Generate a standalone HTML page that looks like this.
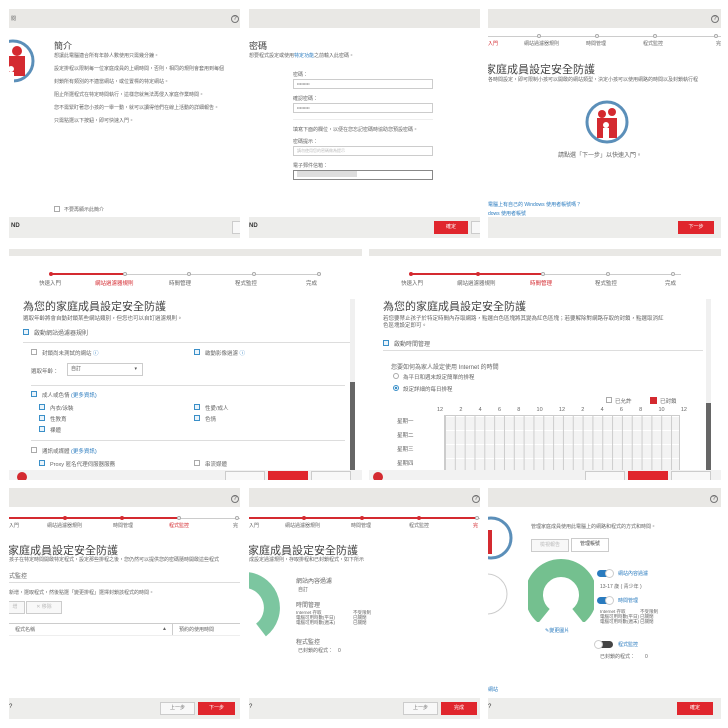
<!DOCTYPE html>
<html><head><meta charset="utf-8"><style>
*{margin:0;padding:0;box-sizing:border-box}
body{width:728px;height:728px;background:#fff;position:relative;overflow:hidden;font-family:"Liberation Sans","Noto Sans CJK TC",sans-serif;color:#555}
.p{position:absolute;background:#fff;overflow:hidden}
.a{position:absolute;white-space:nowrap}
.hd{position:absolute;left:0;right:0;top:0;height:19px;background:#e9e8e5}
.ft{position:absolute;left:0;right:0;bottom:0;height:21px;background:#ededeb}
.q{position:absolute;width:8px;height:8px;border:1px solid #777;border-radius:50%;font-size:6px;line-height:6px;text-align:center;color:#555}
.t{font-size:5px;color:#666}
.r2 .t{font-size:5.5px}
.h{font-size:11px;color:#444}
.btn{position:absolute;height:13px;background:#e0262d;color:#fff;font-size:5px;text-align:center;line-height:13px}
.gb{position:absolute;height:13px;background:#f8f8f8;border:1px solid #ccc;font-size:5px;text-align:center;line-height:11px;color:#777}
.inp{position:absolute;height:10px;border:1px solid #ccc;background:#fff;font-size:4px;padding-left:3px;line-height:8px}
.cb{position:absolute;width:6px;height:6px;border:1px solid #3a8fc8;background:#eaf4fb}
.cbo{position:absolute;width:6px;height:6px;border:1px solid #aaa}
.line{position:absolute;height:1px;background:#ccc}
.rl{position:absolute;height:2px;background:#d42a30}
.dot{position:absolute;width:4px;height:4px;border-radius:50%;background:#d42a30}
.odot{position:absolute;width:4px;height:4px;border-radius:50%;border:1px solid #aaa;background:#fff}
.blue{color:#2a7bbf}
.red{color:#d42a30}
</style></head><body>

<!-- Panel A -->
<div class="p" style="left:9px;top:9px;width:231px;height:229px">
<div class="hd"></div><div class="q" style="left:222px;top:6px">?</div>
<div class="a t" style="left:2px;top:6px">閱</div>
<svg class="a" style="left:-10px;top:30px" width="48" height="56"><circle cx="14" cy="22" r="20" fill="#fff" stroke="#5b8fb9" stroke-width="3"/><circle cx="18" cy="12" r="5" fill="#d42a30"/><rect x="10" y="17" width="16" height="20" fill="#d42a30"/><circle cx="8" cy="26" r="4" fill="#d42a30"/><circle cx="12" cy="30" r="3" fill="#fff"/><rect x="9" y="33" width="6" height="12" fill="#fff"/></svg>
<div class="a" style="left:45px;top:30px;font-size:9px;color:#444">簡介</div>
<div class="a t" style="left:45px;top:43px">想讓此電腦適合所有年齡人數使用只需幾分鐘。</div>
<div class="a t" style="left:45px;top:56px">設定排程以限制每一位家庭成員的上網時間，否則，相同的規則會套用到每個</div>
<div class="a t" style="left:45px;top:69px">封鎖所有類別的不適當網站，或位置標的特定網站。</div>
<div class="a t" style="left:45px;top:82px">阻止所選程式在特定時間執行，這樣您就無法再侵入家庭作業時間。</div>
<div class="a t" style="left:45px;top:95px">您不需緊盯著您小孩的一舉一動，就可以讀得他們在線上活動的詳細報告。</div>
<div class="a t" style="left:45px;top:108px">只需點選以下按鈕，即可快速入門。</div>
<div class="cbo" style="left:45px;top:197px"></div><div class="a t" style="left:55px;top:197px">不要再顯示此簡介</div>
<div class="ft"><div class="a" style="left:2px;top:6px;font-size:6px;font-weight:bold;color:#333">ND</div><div class="gb" style="left:223px;top:4px;width:10px"></div></div>
</div>

<!-- Panel B -->
<div class="p" style="left:249px;top:9px;width:231px;height:229px">
<div class="hd"></div>
<div class="a" style="left:0;top:30px;font-size:9px;color:#444">密碼</div>
<div class="a t" style="left:0;top:43px">想要程式設定或使用<span class="blue">特定功能</span>之前輸入此密碼。</div>
<div class="a t" style="left:44px;top:62px">密碼：</div><div class="inp" style="left:44px;top:70px;width:140px">•••••••••</div>
<div class="a t" style="left:44px;top:86px">確認密碼：</div><div class="inp" style="left:44px;top:94px;width:140px">•••••••••</div>
<div class="line" style="left:44px;top:110px;width:140px;background:#eee"></div>
<div class="a t" style="left:44px;top:117px">填寫下面的欄位，以便在您忘記密碼時協助您預設密碼。</div>
<div class="a t" style="left:44px;top:129px">密碼提示：</div><div class="inp" style="left:44px;top:137px;width:140px;color:#bbb">請勿使用您的密碼做為提示</div>
<div class="a t" style="left:44px;top:153px">電子郵件信箱：</div><div class="inp" style="left:44px;top:161px;width:140px;border-color:#888"><span style="display:inline-block;width:60px;height:6px;background:#ddd"></span></div>
<div class="ft"><div class="a" style="left:0;top:6px;font-size:6px;font-weight:bold;color:#333">ND</div><div class="btn" style="left:185px;top:4px;width:34px">確定</div><div class="gb" style="left:222px;top:4px;width:12px"></div></div>
</div>

<!-- Panel C -->
<div class="p" style="left:488px;top:9px;width:233px;height:229px">
<div class="hd"></div><div class="q" style="left:223px;top:6px">?</div>
<div class="line" style="left:0;top:27px;width:233px"></div>
<div class="odot" style="left:49px;top:25px"></div><div class="odot" style="left:107px;top:25px"></div><div class="odot" style="left:165px;top:25px"></div><div class="odot" style="left:226px;top:25px"></div>
<div class="a t red" style="left:0;top:31px">入門</div><div class="a t" style="left:36px;top:31px">網站過濾器規則</div><div class="a t" style="left:98px;top:31px">時間管理</div><div class="a t" style="left:155px;top:31px">程式監控</div><div class="a t" style="left:228px;top:31px">完</div>
<div class="a h" style="left:-3px;top:52px">家庭成員設定安全防護</div>
<div class="a t" style="left:0;top:67px">各時間設定，即可限制小孩可以開啟的網站類型，決定小孩可以使用網路的時間以及封鎖執行程</div>
<svg class="a" style="left:96px;top:90px" width="46" height="46"><circle cx="23" cy="23" r="20" fill="#fff" stroke="#5b8fb9" stroke-width="3"/><circle cx="18" cy="15" r="4" fill="#d42a30"/><circle cx="28" cy="13" r="4" fill="#d42a30"/><rect x="13" y="19" width="20" height="20" fill="#d42a30"/><circle cx="22" cy="26" r="3" fill="#fff"/><rect x="19" y="29" width="6" height="11" fill="#fff"/></svg>
<div class="a t" style="left:70px;top:141px;font-size:6px">請點選「下一步」以快速入門。</div>
<div class="a t blue" style="left:0;top:192px">電腦上有自己的 Windows 使用者帳號嗎？</div>
<div class="a t blue" style="left:0;top:201px">dows 使用者帳號</div>
<div class="ft"><div class="btn" style="left:190px;top:4px;width:36px">下一步</div></div>
</div>

<!-- Panel D -->
<div class="p r2" style="left:9px;top:249px;width:353px;height:231px">
<div class="hd" style="height:7px"></div>
<div class="line" style="left:42px;top:25px;width:270px"></div><div class="rl" style="left:42px;top:24px;width:72px"></div>
<div class="dot" style="left:40px;top:23px"></div><div class="odot" style="left:114px;top:23px"></div><div class="odot" style="left:178px;top:23px"></div><div class="odot" style="left:243px;top:23px"></div><div class="odot" style="left:308px;top:23px"></div>
<div class="a t" style="left:30px;top:30px">快速入門</div><div class="a t red" style="left:86px;top:30px">網站過濾器規則</div><div class="a t" style="left:160px;top:30px">時間管理</div><div class="a t" style="left:226px;top:30px">程式監控</div><div class="a t" style="left:297px;top:30px">完成</div>
<div class="a h" style="left:14px;top:49px">為您的家庭成員設定安全防護</div>
<div class="a t" style="left:14px;top:65px">選取年齡將會自動封鎖某些網站類別，但您也可以自訂過濾規則。</div>
<div class="cb" style="left:14px;top:80px"></div><div class="a t" style="left:25px;top:79px;font-size:6px">啟動網站過濾器規則</div>
<div class="line" style="left:14px;top:93px;width:330px;background:#ddd"></div>
<div class="cbo" style="left:22px;top:100px"></div><div class="a t" style="left:33px;top:100px">封鎖尚未測試的網站 <span class="blue">ⓘ</span></div>
<div class="cb" style="left:185px;top:100px"></div><div class="a t" style="left:196px;top:100px">啟動影像過濾 <span class="blue">ⓘ</span></div>
<div class="a t" style="left:22px;top:118px">選取年齡：</div><div class="inp" style="left:58px;top:114px;width:76px;height:13px;line-height:11px;font-size:5px">自訂<span style="float:right;margin-right:5px">▾</span></div>
<div class="line" style="left:22px;top:136px;width:314px;background:#ddd"></div>
<div class="cb" style="left:22px;top:142px"></div><div class="a t" style="left:33px;top:142px">成人或色情 <span class="blue">(更多資訊)</span></div>
<div class="cb" style="left:30px;top:155px"></div><div class="a t" style="left:41px;top:155px">內衣/泳裝</div>
<div class="cb" style="left:30px;top:166px"></div><div class="a t" style="left:41px;top:166px">性教育</div>
<div class="cb" style="left:30px;top:177px"></div><div class="a t" style="left:41px;top:177px">裸體</div>
<div class="cb" style="left:185px;top:155px"></div><div class="a t" style="left:196px;top:155px">性愛/成人</div>
<div class="cb" style="left:185px;top:166px"></div><div class="a t" style="left:196px;top:166px">色情</div>
<div class="line" style="left:22px;top:191px;width:314px;background:#ddd"></div>
<div class="cbo" style="left:22px;top:198px"></div><div class="a t" style="left:33px;top:198px">通訊或媒體 <span class="blue">(更多資訊)</span></div>
<div class="cb" style="left:30px;top:211px"></div><div class="a t" style="left:41px;top:211px">Proxy 匿名代理伺服器服務</div>
<div class="cbo" style="left:30px;top:221px"></div><div class="a t" style="left:41px;top:221px">個人/約會</div>
<div class="cbo" style="left:185px;top:211px"></div><div class="a t" style="left:196px;top:211px">串流媒體</div>
<div class="cbo" style="left:185px;top:221px"></div><div class="a t" style="left:196px;top:221px">共享服務</div>
<div class="a" style="left:341px;top:50px;width:5px;height:178px;background:#f0f0f0"></div><div class="a" style="left:341px;top:133px;width:5px;height:95px;background:#666"></div>
<div class="ft" style="height:10px;background:#f2f2f2"><div class="a" style="left:8px;top:2px;width:10px;height:10px;border-radius:50%;background:#d42a30"></div><div class="gb" style="left:216px;top:1px;width:40px"></div><div class="btn" style="left:259px;top:1px;width:40px"></div><div class="gb" style="left:302px;top:1px;width:40px"></div></div>
</div>

<!-- Panel E -->
<div class="p r2" style="left:369px;top:249px;width:352px;height:231px">
<div class="hd" style="height:7px"></div>
<div class="line" style="left:42px;top:25px;width:270px"></div><div class="rl" style="left:42px;top:24px;width:130px"></div>
<div class="dot" style="left:40px;top:23px"></div><div class="dot" style="left:107px;top:23px"></div><div class="odot" style="left:172px;top:23px"></div><div class="odot" style="left:237px;top:23px"></div><div class="odot" style="left:302px;top:23px"></div>
<div class="a t" style="left:32px;top:30px">快速入門</div><div class="a t" style="left:88px;top:30px">網站過濾器規則</div><div class="a t red" style="left:161px;top:30px">時間管理</div><div class="a t" style="left:226px;top:30px">程式監控</div><div class="a t" style="left:296px;top:30px">完成</div>
<div class="a h" style="left:14px;top:49px">為您的家庭成員設定安全防護</div>
<div class="a t" style="left:14px;top:65px">若您要禁止孩子於特定時間內存取網路，點選白色區塊將其變為紅色區塊；若要解除對網路存取的封鎖，點選取消紅</div>
<div class="a t" style="left:14px;top:72px">色區塊設定即可。</div>
<div class="cb" style="left:14px;top:91px"></div><div class="a t" style="left:25px;top:90px;font-size:6px">啟動時間管理</div>
<div class="line" style="left:14px;top:101px;width:320px;background:#ddd"></div>
<div class="a t" style="left:22px;top:113px;font-size:6px">您要如何為家人設定使用 Internet 的時間</div>
<div class="a" style="left:24px;top:124px;width:6px;height:6px;border:1px solid #aaa;border-radius:50%"></div><div class="a t" style="left:34px;top:124px">為平日和週末設定簡單的排程</div>
<div class="a" style="left:24px;top:136px;width:6px;height:6px;border:1px solid #3a8fc8;border-radius:50%;background:radial-gradient(#3a8fc8 40%,#fff 50%)"></div><div class="a t" style="left:34px;top:136px">設定詳細的每日排程</div>
<div class="cbo" style="left:237px;top:148px"></div><div class="a t" style="left:246px;top:148px">已允許</div>
<div class="a" style="left:281px;top:148px;width:7px;height:7px;background:#d42a30"></div><div class="a t" style="left:291px;top:148px">已封鎖</div>
<div class="a t" style="left:68px;top:158px;width:250px;display:flex;justify-content:space-between"><span>12</span><span>2</span><span>4</span><span>6</span><span>8</span><span>10</span><span>12</span><span>2</span><span>4</span><span>6</span><span>8</span><span>10</span><span>12</span></div>
<div class="a t" style="left:28px;top:168px">星期一</div><div class="a t" style="left:28px;top:182px">星期二</div><div class="a t" style="left:28px;top:196px">星期三</div><div class="a t" style="left:28px;top:210px">星期四</div><div class="a t" style="left:28px;top:223px">星期五</div>
<div class="a" style="left:75px;top:166px;width:236px;height:66px;background-image:linear-gradient(90deg,#ccc 1px,transparent 1px),linear-gradient(#fff 1px,transparent 1px);background-size:9.83px 14px,100% 14px;background-color:#f3f3f3;border:1px solid #ccc"></div>
<div class="a" style="left:337px;top:50px;width:5px;height:178px;background:#f0f0f0"></div><div class="a" style="left:337px;top:154px;width:5px;height:74px;background:#666"></div>
<div class="ft" style="height:10px;background:#f2f2f2"><div class="a" style="left:4px;top:2px;width:10px;height:10px;border-radius:50%;background:#d42a30"></div><div class="gb" style="left:216px;top:1px;width:40px"></div><div class="btn" style="left:259px;top:1px;width:40px"></div><div class="gb" style="left:302px;top:1px;width:40px"></div></div>
</div>

<!-- Panel F -->
<div class="p" style="left:9px;top:488px;width:231px;height:231px">
<div class="hd"></div><div class="q" style="left:222px;top:7px">?</div>
<div class="line" style="left:0;top:30px;width:231px"></div><div class="rl" style="left:0;top:29px;width:168px"></div>
<div class="dot" style="left:54px;top:28px"></div><div class="dot" style="left:111px;top:28px"></div><div class="odot" style="left:168px;top:28px"></div><div class="odot" style="left:226px;top:28px"></div>
<div class="a t" style="left:0;top:34px">入門</div><div class="a t" style="left:38px;top:34px">網站過濾器規則</div><div class="a t" style="left:104px;top:34px">時間管理</div><div class="a t red" style="left:160px;top:34px">程式監控</div><div class="a t" style="left:224px;top:34px">完</div>
<div class="a h" style="left:-1px;top:54px">家庭成員設定安全防護</div>
<div class="a t" style="left:0;top:68px">孩子在特定時間開啟特定程式，設定那些排程之後，您仍然可以提供您的密碼隨時開啟這些程式</div>
<div class="a t" style="left:0;top:83px;font-size:6px">式監控</div>
<div class="line" style="left:0;top:94px;width:231px;background:#ddd"></div>
<div class="a t" style="left:0;top:101px">新增，選取程式，然後點選「變更排程」選擇封鎖該程式的時間。</div>
<div class="gb" style="left:-4px;top:113px;width:20px;height:13px;color:#bbb">增</div><div class="gb" style="left:17px;top:113px;width:36px;height:13px;color:#bbb">✕ 移除</div>
<div class="line" style="left:0;top:135px;width:231px"></div>
<div class="a t" style="left:6px;top:138px">程式名稱</div><div class="a t" style="left:153px;top:138px">▲</div><div class="line" style="left:163px;top:135px;width:1px;height:12px"></div><div class="a t" style="left:170px;top:138px">預約的使用時間</div>
<div class="line" style="left:0;top:147px;width:231px;background:#eee"></div>
<div class="ft"><div class="a" style="left:0;top:6px;font-size:6px;color:#333">?</div><div class="gb" style="left:151px;top:4px;width:35px">上一步</div><div class="btn" style="left:189px;top:4px;width:37px">下一步</div></div>
</div>

<!-- Panel G -->
<div class="p" style="left:249px;top:488px;width:231px;height:231px">
<div class="hd"></div><div class="q" style="left:223px;top:7px">?</div>
<div class="line" style="left:0;top:30px;width:231px"></div><div class="rl" style="left:0;top:29px;width:228px"></div>
<div class="dot" style="left:53px;top:28px"></div><div class="dot" style="left:111px;top:28px"></div><div class="dot" style="left:168px;top:28px"></div><div class="odot" style="left:226px;top:28px"></div>
<div class="a t" style="left:0;top:34px">入門</div><div class="a t" style="left:36px;top:34px">網站過濾器規則</div><div class="a t" style="left:102px;top:34px">時間管理</div><div class="a t" style="left:160px;top:34px">程式監控</div><div class="a t red" style="left:224px;top:34px">完</div>
<div class="a h" style="left:-1px;top:54px">家庭成員設定安全防護</div>
<div class="a t" style="left:0;top:68px">成設定過濾規則，存取排程和已封鎖程式，如下所示</div>
<svg class="a" style="left:-40px;top:80px" width="90" height="70"><path d="M38,12 A28,28 0 0 1 52,62" fill="none" stroke="#7cc6a0" stroke-width="16"/></svg>
<div class="a t" style="left:47px;top:88px;font-size:6px">網站內容過濾</div><div class="a t" style="left:49px;top:98px">自訂</div>
<div class="a t" style="left:47px;top:112px;font-size:6px">時間管理</div>
<div class="a t" style="left:47px;top:122px;line-height:5px;font-size:4.5px">Internet 存取<br>電腦可用時數(平日)<br>電腦可用時數(週末)</div>
<div class="a t" style="left:104px;top:122px;line-height:5px;font-size:4.5px">不受限制<br>已關閉<br>已關閉</div>
<div class="a t" style="left:47px;top:149px;font-size:6px">程式監控</div><div class="a t" style="left:49px;top:159px">已封鎖的程式：　0</div>
<div class="ft"><div class="a" style="left:0;top:6px;font-size:6px;color:#333">?</div><div class="gb" style="left:154px;top:4px;width:35px">上一步</div><div class="btn" style="left:192px;top:4px;width:36px">完成</div></div>
</div>

<!-- Panel H -->
<div class="p" style="left:488px;top:488px;width:233px;height:231px">
<div class="hd"></div><div class="q" style="left:222px;top:7px">?</div>
<svg class="a" style="left:-12px;top:28px" width="40" height="100"><circle cx="15" cy="22" r="20" fill="#fff" stroke="#5b8fb9" stroke-width="3"/><rect x="6" y="14" width="10" height="24" fill="#d42a30"/><circle cx="11" cy="78" r="20" fill="#fff" stroke="#ccc"/></svg>
<div class="a t" style="left:43px;top:35px">管理家庭成員使用此電腦上的網路和程式的方式和時間。</div>
<div class="gb" style="left:43px;top:51px;width:38px;color:#bbb">檢視報告</div><div class="gb" style="left:83px;top:50px;width:38px;height:14px;background:#fff;color:#444">管理帳號</div>
<svg class="a" style="left:40px;top:70px" width="66" height="64"><path d="M16,58 A27,27 0 1 1 50,58" fill="none" stroke="#74c08f" stroke-width="18"/></svg>
<div class="a t blue" style="left:57px;top:139px">✎變更圖片</div>
<div class="a" style="left:109px;top:82px;width:16px;height:7px;border-radius:4px;background:#2a7bbf"></div><div class="a" style="left:117px;top:81px;width:9px;height:9px;border-radius:50%;background:#fff;border:1px solid #ccc"></div><div class="a t blue" style="left:130px;top:82px">網站內容過濾</div>
<div class="a t" style="left:112px;top:95px">13-17 歲 ( 青少年 )</div>
<div class="a" style="left:109px;top:109px;width:16px;height:7px;border-radius:4px;background:#2a7bbf"></div><div class="a" style="left:117px;top:108px;width:9px;height:9px;border-radius:50%;background:#fff;border:1px solid #ccc"></div><div class="a t blue" style="left:130px;top:109px">時間管理</div>
<div class="a t" style="left:112px;top:121px;line-height:5px;font-size:4.5px">Internet 存取<br>電腦可用時數(平日)<br>電腦可用時數(週末)</div>
<div class="a t" style="left:152px;top:121px;line-height:5px;font-size:4.5px">不受限制<br>已關閉<br>已關閉</div>
<div class="a" style="left:109px;top:153px;width:16px;height:7px;border-radius:4px;background:#444"></div><div class="a" style="left:106px;top:152px;width:9px;height:9px;border-radius:50%;background:#fff;border:1px solid #ccc"></div><div class="a t blue" style="left:130px;top:153px">程式監控</div>
<div class="a t" style="left:112px;top:165px">已封鎖的程式：　　0</div>
<div class="a t blue" style="left:0;top:198px">網站</div>
<div class="ft"><div class="a" style="left:0;top:6px;font-size:6px;color:#333">?</div><div class="btn" style="left:189px;top:4px;width:36px">確定</div></div>
</div>

</body></html>
